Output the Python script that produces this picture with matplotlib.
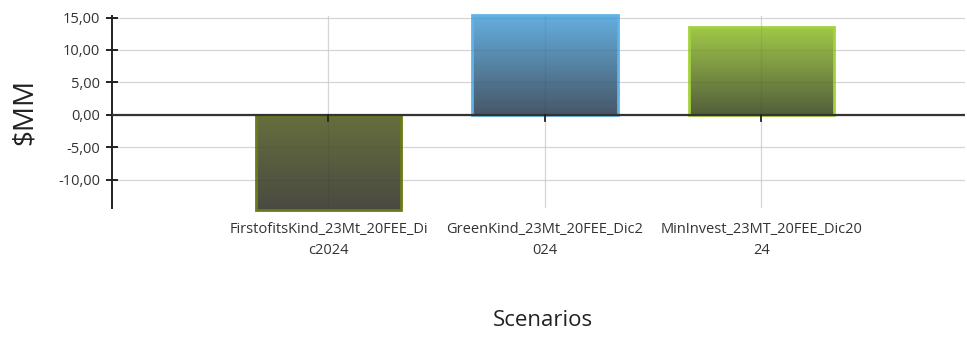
import matplotlib.pyplot as plt
import matplotlib.colors as mcolors
import matplotlib.transforms as mtransforms
import numpy as np

plt.rcParams['font.family'] = ['Open Sans', 'DejaVu Sans']

# scenario results in $MM
scenarios = ["FirstofitsKind_23Mt_20FEE_Dic2024",
             "GreenKind_23Mt_20FEE_Dic2024",
             "MinInvest_23MT_20FEE_Dic2024"]
tickLabels = ["FirstofitsKind_23Mt_20FEE_Di\nc2024",
              "GreenKind_23Mt_20FEE_Dic2\n024",
              "MinInvest_23MT_20FEE_Dic20\n24"]
values = [-14.7, 15.4, 13.5]
yTicks = [-10, -5, 0, 5, 10, 15]

# gradient colours per bar: (far end, zero-line end, edge)
barColors = [("#4a4a42", "#666f3d", "#6b7a1a"),
             ("#64afe0", "#475767", "#5fb3e6"),
             ("#a0c848", "#535e3b", "#a3d13f")]

fig = plt.figure(figsize=(9.67, 3.40), dpi=100)
ax = fig.add_axes([112 / 967, 1 - 208 / 340, (965 - 112) / 967, (208 - 16) / 340])

x = np.arange(len(scenarios))
width = 0.67

for xv, val, (c1, c2, edge) in zip(x, values, barColors):
    # c1 at the bar's far end, c2 near zero
    if val >= 0:
        top, bottom = c1, c2
    else:
        top, bottom = c2, c1
    cmap = mcolors.LinearSegmentedColormap.from_list("g", [bottom, top])
    grad = np.linspace(0, 1, 256).reshape(-1, 1)
    x0 = xv - width / 2
    y0 = min(0, val)
    y1 = max(0, val)
    ax.imshow(grad, cmap=cmap, origin="lower", aspect="auto",
              extent=[x0, x0 + width, y0, y1], zorder=2, clip_on=False)
    ax.add_patch(plt.Rectangle((x0, y0), width, y1 - y0, fill=False,
                               edgecolor=edge, linewidth=2.0, zorder=3, clip_on=False))

ax.set_xlim(-1.0, 2.94)
ax.set_ylim(-14.4, 15.25)

# grid sits faintly over the bars
for yv in yTicks:
    ax.axhline(yv, color="#e2e2e2", linewidth=0.9, zorder=1)
    ax.axhline(yv, color="#000000", alpha=0.05, linewidth=0.9, zorder=4)
for xv in x:
    ax.axvline(xv, color="#e2e2e2", linewidth=0.9, zorder=1)
    ax.axvline(xv, color="#000000", alpha=0.05, linewidth=0.9, zorder=4)

ax.axhline(0, color="#333333", linewidth=1.6, zorder=5)

ax.spines["top"].set_visible(False)
ax.spines["right"].set_visible(False)
ax.spines["bottom"].set_visible(False)
ax.spines["left"].set_linewidth(1.4)
ax.spines["left"].set_color("#222222")

ax.set_yticks(yTicks)
ax.set_yticklabels([f"{v:.2f}".replace(".", ",") for v in yTicks],
                   fontsize=10.5, color="#333333")
ax.tick_params(axis="y", direction="inout", length=9, width=1.4, color="#222222", pad=4)

# short ticks below the zero line at each category
ax.set_xticks([])
for xv in x:
    ax.plot([xv, xv], [0, -1.0], color="#222222", linewidth=1.3, zorder=5, clip_on=False)

trans = mtransforms.blended_transform_factory(ax.transData, fig.transFigure)
for xv, lab in zip(x, tickLabels):
    ax.text(xv, 1 - 222 / 340, lab, transform=trans, ha="center", va="top",
            fontsize=10.5, color="#333333", linespacing=1.55)

fig.text(25 / 967, 1 - 112 / 340, "$MM", rotation=90, ha="center", va="center",
         fontsize=20, color="#222222")
fig.text(543 / 967, 1 - 321 / 340, "Scenarios", ha="center", va="center",
         fontsize=16, color="#222222")

fig.savefig("out.png", dpi=100)
